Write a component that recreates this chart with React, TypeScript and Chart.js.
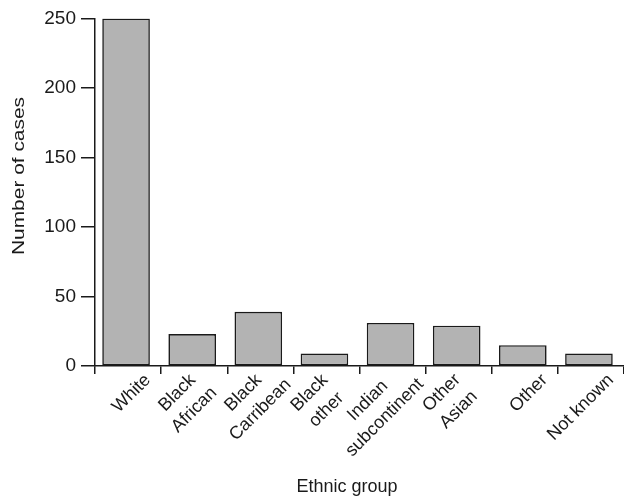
import React, { useEffect, useRef } from "react";
import { Chart, registerables } from "chart.js";

Chart.register(...registerables);

const categories: string[][] = [
  ["White"],
  ["Black", "African"],
  ["Black", "Carribean"],
  ["Black", "other"],
  ["Indian", "subcontinent"],
  ["Other", "Asian"],
  ["Other"],
  ["Not known"],
];
const cases: number[] = [250, 23, 39, 9, 31, 29, 15, 9];
const yTicks: number[] = [0, 50, 100, 150, 200, 250];
const yTitle = "Number of cases";
const xTitle = "Ethnic group";

const FONT = "'Liberation Sans', Arial, Helvetica, sans-serif";
const INK = "#1a1a1a";

const barShiftPlugin = {
  id: "barShift",
  beforeDatasetsDraw(chart: any) {
    chart.ctx.save();
    chart.ctx.translate(-2, 0);
  },
  afterDatasetsDraw(chart: any) {
    chart.ctx.restore();
  },
};

const labelPlugin = {
  id: "rotatedLabels",
  afterDraw(chart: any) {
    const ctx = chart.ctx;
    const xs = chart.scales.x;
    const area = chart.chartArea;
    const bottom = area.bottom;
    const labels = chart.data.labels as string[][];
    ctx.save();
    ctx.fillStyle = INK;
    ctx.font = `18px ${FONT}`;
    ctx.textAlign = "center";
    ctx.textBaseline = "middle";
    labels.forEach((lines, i) => {
      const cx = xs.getPixelForValue(i);
      ctx.save();
      ctx.translate(cx, bottom);
      ctx.rotate(-Math.PI / 4);
      const w = Math.max(...lines.map((l) => ctx.measureText(l).width));
      if (lines.length === 1) {
        ctx.fillText(lines[0], 6 - w / 2, 22);
      } else {
        const lh = 24;
        const vc = 19;
        const uc = Math.min(-31, 9 - w / 2);
        lines.forEach((ln, k) => {
          const v = vc + (k - (lines.length - 1) / 2) * lh;
          ctx.fillText(ln, uc, v);
        });
      }
      ctx.restore();
    });
    // x axis title
    ctx.font = `18px ${FONT}`;
    ctx.fillText(xTitle, 347, 487);
    // y axis title
    ctx.save();
    ctx.translate(19, 176);
    ctx.rotate(-Math.PI / 2);
    ctx.scale(1.23, 1);
    ctx.font = `17px ${FONT}`;
    ctx.fillText(yTitle, 0, 0);
    ctx.restore();
    ctx.restore();
  },
};

export default function App() {
  const ref = useRef<HTMLCanvasElement | null>(null);
  useEffect(() => {
    if (!ref.current) return;
    const chart = new Chart(ref.current, {
      type: "bar",
      data: {
        labels: categories as any,
        datasets: [
          {
            data: cases,
            backgroundColor: "#b3b3b3",
            borderColor: INK,
            borderWidth: 1.6,
            borderSkipped: false,
            barPercentage: 0.72,
            categoryPercentage: 1,
          },
        ],
      },
      options: {
        responsive: false,
        animation: false,
        events: [],
        layout: { padding: { top: 18.5, left: 0, right: 0, bottom: 0 } },
        plugins: {
          legend: { display: false },
          tooltip: { enabled: false },
          title: { display: false },
        },
        scales: {
          x: {
            offset: true,
            grid: {
              display: true,
              offset: true,
              drawOnChartArea: false,
              drawTicks: true,
              tickLength: 8,
              color: INK,
              lineWidth: 1.5,
            },
            border: { display: true, color: INK, width: 1.5 },
            ticks: { display: false },
            afterFit: (s: any) => {
              s.height = 131;
            },
          },
          y: {
            min: 0,
            max: 250,
            afterBuildTicks: (s: any) => {
              s.ticks = yTicks.map((v) => ({ value: v }));
            },
            grid: {
              display: true,
              drawOnChartArea: false,
              drawTicks: true,
              tickLength: 14,
              color: INK,
              lineWidth: 1.5,
            },
            border: { display: true, color: INK, width: 1.5 },
            ticks: {
              color: INK,
              font: { family: FONT, size: 19 },
              padding: 5,
            },
            title: { display: false },
            afterFit: (s: any) => {
              s.width = 95;
            },
          },
        },
      },
      plugins: [barShiftPlugin, labelPlugin],
    });
    return () => chart.destroy();
  }, []);
  return (
    <div style={{ position: "absolute", left: 0, top: 0, width: 624, height: 497, background: "#fff" }}>
      <canvas ref={ref} width={624} height={497} style={{ display: "block", width: 624, height: 497 }} />
    </div>
  );
}
